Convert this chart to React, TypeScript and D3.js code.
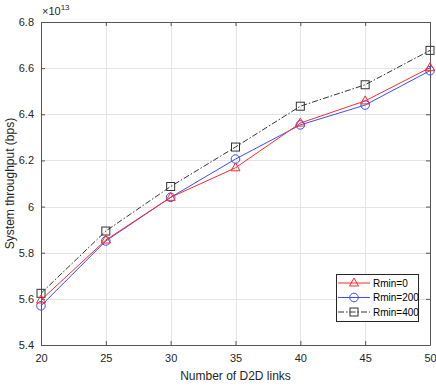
import { useEffect, useRef } from 'react';
import * as d3 from 'd3';

const links = [20, 25, 30, 35, 40, 45, 50];
const rmin0 = [5.595, 5.855, 6.04, 6.168, 6.362, 6.458, 6.602];
const rmin200 = [5.57, 5.851, 6.04, 6.206, 6.354, 6.44, 6.589];
const rmin400 = [5.624, 5.894, 6.087, 6.258, 6.435, 6.528, 6.677];
const yTicks = [5.4, 5.6, 5.8, 6, 6.2, 6.4, 6.6, 6.8];
const seriesNames = ['Rmin=0', 'Rmin=200', 'Rmin=400'];

function App() {
    const ref = useRef<SVGSVGElement>(null);

    useEffect(() => {
        const width = 436;
        const height = 387;
        const m = { left: 41, top: 22, right: 6, bottom: 42 };
        const font = '"Liberation Sans", Arial, sans-serif';

        const svg = d3.select(ref.current);
        svg.selectAll('*').remove();

        const x = d3.scaleLinear().domain([20, 50]).range([m.left, width - m.right]);
        const y = d3.scaleLinear().domain([5.4, 6.8]).range([height - m.bottom, m.top]);

        svg.append('rect').attr('width', width).attr('height', height).attr('fill', '#fff');

        // grid
        const grid = svg.append('g').attr('stroke', '#e3e3e3').attr('stroke-width', 1);
        grid.selectAll('line.gx').data(links).join('line')
            .attr('x1', d => Math.round(x(d)) + 0.5).attr('x2', d => Math.round(x(d)) + 0.5)
            .attr('y1', m.top).attr('y2', height - m.bottom);
        grid.selectAll('line.gy').data(yTicks).join('line')
            .attr('y1', d => Math.round(y(d)) + 0.5).attr('y2', d => Math.round(y(d)) + 0.5)
            .attr('x1', m.left).attr('x2', width - m.right);

        // axes with box
        const axisColor = '#262626';
        const bottom = svg.append('g').attr('transform', `translate(0,${height - m.bottom})`)
            .call(d3.axisBottom(x).tickValues(links).tickSizeInner(-4).tickSizeOuter(0).tickPadding(9));
        const left = svg.append('g').attr('transform', `translate(${m.left},0)`)
            .call(d3.axisLeft(y).tickValues(yTicks).tickFormat(d3.format('~g')).tickSizeInner(-4).tickSizeOuter(0).tickPadding(7));
        const top = svg.append('g').attr('transform', `translate(0,${m.top})`)
            .call(d3.axisTop(x).tickValues(links).tickSizeInner(-4).tickSizeOuter(0).tickFormat(() => ''));
        const right = svg.append('g').attr('transform', `translate(${width - m.right},0)`)
            .call(d3.axisRight(y).tickValues(yTicks).tickSizeInner(-4).tickSizeOuter(0).tickFormat(() => ''));
        [bottom, left, top, right].forEach(g => {
            g.selectAll('path, line').attr('stroke', '#555');
            g.selectAll('text').attr('fill', axisColor).style('font-family', font).style('font-size', '11px');
        });

        // exponent
        const exp = svg.append('text').attr('x', m.left + 1).attr('y', 15)
            .attr('fill', axisColor).style('font-family', font).style('font-size', '11px');
        exp.append('tspan').text('×10');
        exp.append('tspan').attr('dy', -5).style('font-size', '8px').text('13');

        // labels
        svg.append('text').attr('x', (m.left + width - m.right) / 2).attr('y', 380)
            .attr('text-anchor', 'middle').attr('fill', axisColor)
            .style('font-family', font).style('font-size', '12px').text('Number of D2D links');
        svg.append('text').attr('transform', `translate(14,${(m.top + height - m.bottom) / 2}) rotate(-90)`)
            .attr('text-anchor', 'middle').attr('fill', axisColor)
            .style('font-family', font).style('font-size', '12px').text('System throughput (bps)');

        const series = [
            { name: seriesNames[0], values: rmin0, color: '#ff2a2a', dash: null, marker: 'tri' },
            { name: seriesNames[1], values: rmin200, color: '#3a4dff', dash: null, marker: 'circ' },
            { name: seriesNames[2], values: rmin400, color: '#333', dash: '6,2,1.5,2', marker: 'sq' },
        ];

        const line = d3.line<number>().x((_, i) => x(links[i])).y(d => y(d));

        const drawMarker = (g: any, type: string, cx: number, cy: number, color: string) => {
            if (type === 'tri') {
                g.append('path').attr('d', `M${cx},${cy - 5}L${cx + 4.5},${cy + 3}L${cx - 4.5},${cy + 3}Z`)
                    .attr('fill', 'none').attr('stroke', color).attr('stroke-width', 1);
            } else if (type === 'circ') {
                g.append('circle').attr('cx', cx).attr('cy', cy).attr('r', 4.3)
                    .attr('fill', 'none').attr('stroke', color).attr('stroke-width', 1);
            } else {
                g.append('rect').attr('x', cx - 4).attr('y', cy - 4).attr('width', 8).attr('height', 8)
                    .attr('fill', 'none').attr('stroke', color).attr('stroke-width', 1);
            }
        };

        // draw in order: black, blue, red
        [series[2], series[1], series[0]].forEach(s => {
            const g = svg.append('g');
            g.append('path').datum(s.values).attr('d', line).attr('fill', 'none')
                .attr('stroke', s.color).attr('stroke-width', 1)
                .attr('stroke-dasharray', s.dash);
            s.values.forEach((v, i) => drawMarker(g, s.marker, x(links[i]), y(v), s.color));
        });

        // legend
        const lx = 336, ly = 274, lw = 82, lh = 47;
        const leg = svg.append('g');
        leg.append('rect').attr('x', lx + 0.5).attr('y', ly + 0.5).attr('width', lw).attr('height', lh)
            .attr('fill', '#fff').attr('stroke', '#262626').attr('stroke-width', 1);
        series.forEach((s, i) => {
            const cy = ly + 9 + i * 14.5;
            leg.append('line').attr('x1', lx + 2).attr('x2', lx + 34).attr('y1', cy).attr('y2', cy)
                .attr('stroke', s.color).attr('stroke-width', 1).attr('stroke-dasharray', s.dash);
            drawMarker(leg, s.marker, lx + 18, cy, s.color);
            leg.append('text').attr('x', lx + 37).attr('y', cy + 3.5).attr('fill', '#000')
                .style('font-family', font).style('font-size', '10px').text(s.name);
        });
    }, []);

    return (
        <div style={{ position: 'absolute', left: 0, top: 0 }}>
            <svg ref={ref} width={436} height={387}></svg>
        </div>
    );
}

export default App;
